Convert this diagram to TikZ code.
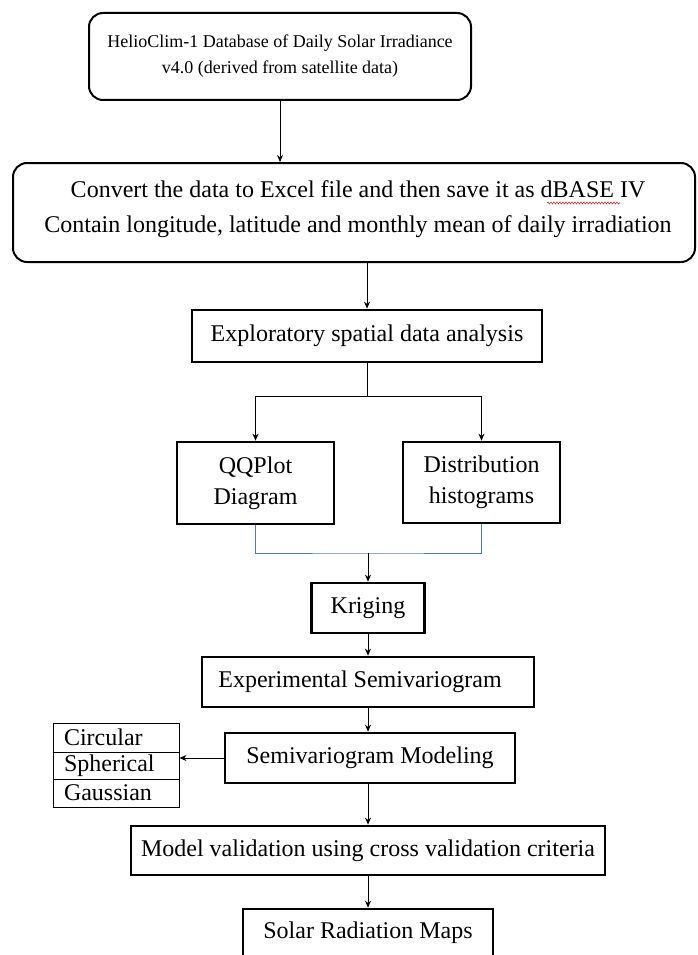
\documentclass[tikz,border=0pt]{standalone}
\usepackage{fontspec}
\setmainfont{Liberation Serif}
\usetikzlibrary{arrows.meta,decorations.pathmorphing}
\definecolor{bluec}{RGB}{74,126,187}
\definecolor{spellred}{RGB}{220,40,40}
\begin{document}
\begin{tikzpicture}[x=1pt,y=-1pt,
  txt/.style={font=\fontsize{24}{31}\selectfont},
  rbox/.style={draw, line width=2pt, rounded corners=14pt, inner sep=0pt, align=center},
  tbox/.style={draw, line width=2.7pt, inner sep=0pt, align=center, txt},
  lbox/.style={draw, line width=0.9pt, inner sep=0pt, minimum width=126pt, txt, text width=104pt, align=left},
  arr/.style={line width=0.9pt, -{Stealth[length=7pt,width=6pt]}},
  bline/.style={line width=0.9pt, draw=bluec}
]
\clip (0,0) rectangle (697,955);
\fill[white] (0,0) rectangle (697,955);

\node[rbox, minimum width=382pt, minimum height=87pt, font=\fontsize{18}{26}\selectfont] (b1) at (280,56.5)
  {HelioClim-1 Database of Daily Solar Irradiance\\v4.0 (derived from satellite data)};
\node[rbox, minimum width=682pt, minimum height=99pt] (b2) at (354,212.5) {};
\node[align=center, inner sep=0pt, font=\fontsize{24}{35}\selectfont] (b2t) at (358,209.5)
  {Convert the data to Excel file and then save it as dBASE IV\\Contain longitude, latitude and monthly mean of daily irradiation};
\node[tbox, minimum width=350pt, minimum height=52pt] (b3) at (367,336) {Exploratory spatial data analysis};
\node[tbox, minimum width=157pt, minimum height=82pt] (qq) at (255.5,483) {QQPlot\\Diagram};
\node[tbox, minimum width=157pt, minimum height=81pt] (dist) at (481.5,482.5) {Distribution\\histograms};
\node[tbox, minimum width=113pt, minimum height=50pt] (kr) at (368,608) {Kriging};
\node[tbox, minimum width=332pt, minimum height=50pt] (ex) at (368,682) {Experimental Semivariogram\kern16pt};
\node[tbox, minimum width=290pt, minimum height=50pt] (sm) at (370,758) {Semivariogram Modeling};
\node[tbox, minimum width=474pt, minimum height=49pt] (mv) at (368,850.5) {Model validation using cross validation criteria};
\node[tbox, minimum width=250pt, minimum height=48pt] (sr) at (368,933) {Solar Radiation Maps};

\node[lbox, minimum height=29pt] (ci) at (116,737.5) {Circular};
\node[lbox, minimum height=27pt] (sp) at (116,765.5) {Spherical};
\node[lbox, minimum height=28pt] (ga) at (116,793) {Gaussian};

\coordinate (j1) at (367,396);
\coordinate (j2) at (368,553);

\draw[arr] (b1.south) -- (b1.south |- b2.north);
\draw[arr] (b3.north |- b2.south) -- (b3.north);
\draw[line width=0.9pt] (b3.south) -- (j1);
\draw[arr] (j1) -| (qq.north);
\draw[arr] (j1) -| (dist.north);
\draw[bline] (qq.south) |- (j2) -| (dist.south);
\draw[arr] (j2) -- (kr.north);
\draw[arr] (kr.south) -- (ex.north);
\draw[arr] (ex.south) -- (ex.south |- sm.north);
\draw[arr] (sm.west) -- (sm.west -| sp.east);
\draw[arr] (ex.south |- sm.south) -- (mv.north);
\draw[arr] (mv.south) -- (sr.north);

\draw[spellred, line width=0.6pt, decorate, decoration={snake, amplitude=0.9pt, segment length=3pt}] (547,203) -- (620,203);
\end{tikzpicture}
\end{document}
